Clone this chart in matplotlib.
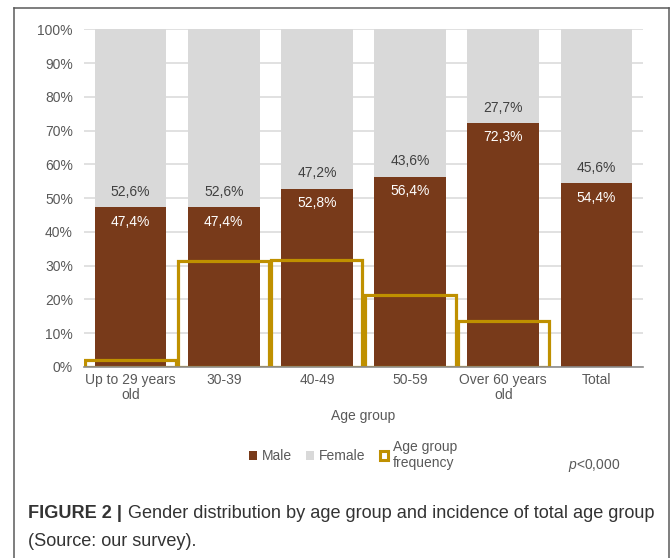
import matplotlib
matplotlib.use("Agg")
import matplotlib.pyplot as plt
from matplotlib.patches import Patch
from matplotlib.lines import Line2D
from matplotlib.ticker import PercentFormatter
import numpy as np

plt.rcParams['font.family'] = ['Liberation Sans', 'DejaVu Sans']
plt.rcParams['mathtext.fontset'] = 'custom'
plt.rcParams['mathtext.it'] = 'Liberation Sans:italic'
plt.rcParams['mathtext.rm'] = 'Liberation Sans'

categories = ["Up to 29 years\nold", "30-39", "40-49", "50-59", "Over 60 years\nold", "Total"]
male = [47.4, 47.4, 52.8, 56.4, 72.3, 54.4]
female = [52.6, 52.6, 47.2, 43.6, 27.7, 45.6]
frequency = [2.1, 31.3, 31.8, 21.2, 13.6]

BROWN = "#783A1A"
GRAY = "#D9D9D9"
GOLD = "#BF9000"
TICK = "#595959"
FS = 10

W, H = 670, 558
fig = plt.figure(figsize=(W / 100, H / 100), dpi=100)
ax = fig.add_axes([84 / W, 1 - 367 / H, (643 - 84) / W, (367 - 29.3) / H])

x = np.arange(len(categories))
ax.bar(x, male, width=0.77, color=BROWN, zorder=2)
ax.bar(x, female, width=0.77, bottom=male, color=GRAY, zorder=2)
ax.bar(x[:len(frequency)], frequency, width=0.975, fill=False,
       edgecolor=GOLD, linewidth=2.3, zorder=3)

for xi, m, f in zip(x, male, female):
    ax.annotate(f"{m:.1f}%".replace(".", ","), (xi, m), xytext=(0, -10.5),
                textcoords="offset points", ha="center", va="center",
                color="white", fontsize=FS, zorder=4)
    ax.annotate(f"{f:.1f}%".replace(".", ","), (xi, m), xytext=(0, 11),
                textcoords="offset points", ha="center", va="center",
                color="#404040", fontsize=FS, zorder=4)

ax.set_xlim(-0.5, len(categories) - 0.5)
ax.set_ylim(0, 100)
ax.set_yticks(np.arange(0, 101, 10))
ax.yaxis.set_major_formatter(PercentFormatter(decimals=0))
ax.set_xticks(x)
ax.set_xticklabels(categories, linespacing=1.1)
ax.tick_params(axis="both", length=0, labelsize=FS, labelcolor=TICK)
ax.tick_params(axis="y", pad=8)
ax.tick_params(axis="x", pad=4)
ax.grid(axis="y", color=GRAY, linewidth=1.1, zorder=0)
ax.set_axisbelow(True)
for side in ("left", "right", "top"):
    ax.spines[side].set_visible(False)
ax.spines["bottom"].set_color("#8C8C8C")
ax.spines["bottom"].set_linewidth(1.2)
ax.spines["bottom"].set_zorder(5)
ax.set_xlabel("Age group", fontsize=FS, color=TICK, labelpad=5)

handles = [
    Patch(facecolor=BROWN, edgecolor="none", label="Male"),
    Patch(facecolor=GRAY, edgecolor="none", label="Female"),
    Patch(facecolor="white", edgecolor=GOLD, linewidth=2.2, label="Age group\nfrequency"),
]
leg = fig.legend(handles=handles, loc="center", bbox_to_anchor=(353 / W, 1 - 455 / H),
                 ncol=3, frameon=False, fontsize=FS, handlelength=0.6,
                 handleheight=0.6, handletextpad=0.35, columnspacing=1.0)
for t in leg.get_texts():
    t.set_color(TICK)
    t.set_linespacing(1.1)

fig.text(620 / W, 1 - 465 / H, r"$p$<0,000", fontsize=FS, color=TICK,
         ha="right", va="center")

# caption: bold label followed by the description on the same line
cap_size = 13.1
label = fig.text(28 / W, 1 - 513 / H, "FIGURE 2 |", fontsize=cap_size,
                 fontweight="bold", color="#333333", ha="left", va="center")
fig.canvas.draw()
label_end = label.get_window_extent().x1 / W
fig.text(label_end + 6 / W, 1 - 513 / H,
         "Gender distribution by age group and incidence of total age group",
         fontsize=cap_size, color="#333333", ha="left", va="center")
fig.text(28 / W, 1 - 541 / H, "(Source: our survey).", fontsize=cap_size,
         color="#333333", ha="left", va="center")

# frame around the figure panel
frame_kw = dict(color="#5A5A5A", linewidth=1.1, transform=fig.transFigure)
fig.add_artist(Line2D([14 / W, 14 / W], [0, 1 - 8 / H], **frame_kw))
fig.add_artist(Line2D([14 / W, 669 / W], [1 - 8 / H, 1 - 8 / H], **frame_kw))
fig.add_artist(Line2D([669 / W, 669 / W], [0, 1 - 8 / H], **frame_kw))

fig.savefig("out.png", dpi=100)
